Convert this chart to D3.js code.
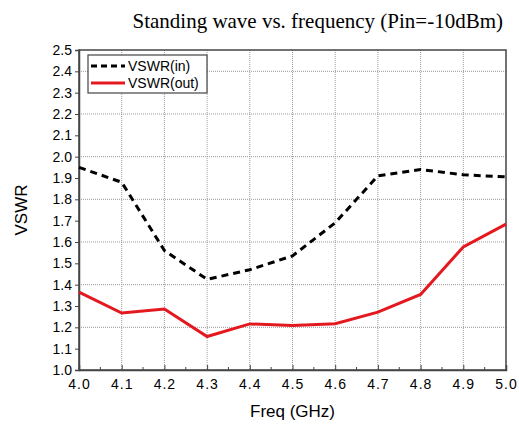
<!DOCTYPE html>
<html>
<head>
<meta charset="utf-8">
<script src="https://cdn.jsdelivr.net/npm/d3@7"></script>
<style>
  body { margin: 0; background: #fff; }
  .grid line { stroke: #9a9a9a; stroke-width: 1; stroke-dasharray: 1,1; }
  .axis path, .axis line { stroke: #444; }
  .axis text { font-family: "Liberation Sans", Arial, sans-serif; font-size: 14px; fill: #000; }
</style>
</head>
<body>
<div id="chart"></div>
<script>
    const freqs = [4.0, 4.1, 4.2, 4.3, 4.4, 4.5, 4.6, 4.7, 4.8, 4.9, 5.0];
    const vswrIn = [1.95, 1.88, 1.56, 1.425, 1.47, 1.535, 1.69, 1.91, 1.94, 1.915, 1.905];
    const vswrOut = [1.365, 1.267, 1.286, 1.157, 1.216, 1.209, 1.217, 1.271, 1.354, 1.577, 1.684];
    const yTicks = [1.0, 1.1, 1.2, 1.3, 1.4, 1.5, 1.6, 1.7, 1.8, 1.9, 2.0, 2.1, 2.2, 2.3, 2.4, 2.5];
    const yGrid = [1.2, 1.4, 1.6, 1.8, 2.0, 2.2, 2.4];
    const seriesNames = ["VSWR(in)", "VSWR(out)"];

    const svg = d3.select("#chart").append("svg")
      .attr("width", 519)
      .attr("height", 425);
    const margin = { top: 50, right: 13, bottom: 55, left: 79 };
    const width = +svg.attr("width") - margin.left - margin.right;
    const height = +svg.attr("height") - margin.top - margin.bottom;
    const g = svg.append("g").attr("transform", `translate(${margin.left},${margin.top})`);

    const x = d3.scaleLinear().domain([4.0, 5.0]).range([0, width]);
    const y = d3.scaleLinear().domain([1.0, 2.5]).range([height, 0]);

    // grid lines
    g.append("g").attr("class", "grid")
      .selectAll("line").data(freqs.slice(1, -1)).enter().append("line")
      .attr("x1", d => x(d)).attr("x2", d => x(d))
      .attr("y1", 0).attr("y2", height);
    g.append("g").attr("class", "grid")
      .selectAll("line").data(yGrid).enter().append("line")
      .attr("x1", 0).attr("x2", width)
      .attr("y1", d => y(d)).attr("y2", d => y(d));

    // frame
    g.append("rect")
      .attr("width", width).attr("height", height)
      .attr("fill", "none").attr("stroke", "#444").attr("stroke-width", 1.5);

    // x axis: minor ticks pointing inward
    const minor = d3.range(4.05, 5.0, 0.1);
    g.append("g").selectAll("line").data(minor).enter().append("line")
      .attr("x1", d => x(d)).attr("x2", d => x(d))
      .attr("y1", height).attr("y2", height - 3)
      .attr("stroke", "#444");
    g.append("g")
      .attr("class", "axis")
      .attr("transform", `translate(0,${height})`)
      .call(d3.axisBottom(x).tickValues(freqs).tickSize(-5).tickPadding(9).tickFormat(d3.format(".1f")))
      .call(a => a.select(".domain").attr("stroke-width", 1.5))
      .call(a => a.selectAll("text").attr("font-size", 15).attr("letter-spacing", 1));

    g.append("g")
      .attr("class", "axis")
      .call(d3.axisLeft(y).tickValues(yTicks).tickSize(4).tickPadding(3).tickFormat(d3.format(".1f")))
      .call(a => a.select(".domain").attr("stroke-width", 1.5));

    // lines
    const line = d3.line().x((d, i) => x(freqs[i])).y(d => y(d));
    g.append("path").datum(vswrOut)
      .attr("fill", "none").attr("stroke", "#e3191f").attr("stroke-width", 3)
      .attr("d", line);
    g.append("path").datum(vswrIn)
      .attr("fill", "none").attr("stroke", "#000").attr("stroke-width", 3)
      .attr("stroke-dasharray", "7,5")
      .attr("d", line);

    // legend
    const lg = g.append("g").attr("transform", "translate(9,5)");
    lg.append("rect").attr("width", 119).attr("height", 38)
      .attr("fill", "#fff").attr("stroke", "#444").attr("stroke-width", 1.2);
    const styles = [{ c: "#000", dash: "6,4" }, { c: "#e3191f", dash: null }];
    seriesNames.forEach((name, i) => {
      const yy = 11 + i * 17;
      lg.append("line").attr("x1", 3).attr("x2", 37).attr("y1", yy).attr("y2", yy)
        .attr("stroke", styles[i].c).attr("stroke-width", 3)
        .attr("stroke-dasharray", styles[i].dash);
      lg.append("text").attr("x", 40).attr("y", yy + 5)
        .attr("font-family", "Liberation Sans, Arial, sans-serif").attr("font-size", 14)
        .text(name);
    });

    // titles
    svg.append("text")
      .attr("x", 503).attr("y", 28).attr("text-anchor", "end")
      .attr("font-family", "Liberation Serif, Times New Roman, serif").attr("font-size", 21)
      .text("Standing wave vs. frequency (Pin=-10dBm)");
    svg.append("text")
      .attr("x", margin.left + width / 2).attr("y", 417).attr("text-anchor", "middle")
      .attr("font-family", "Liberation Sans, Arial, sans-serif").attr("font-size", 17)
      .text("Freq (GHz)");
    svg.append("text")
      .attr("transform", `translate(27,${margin.top + height / 2}) rotate(-90)`)
      .attr("text-anchor", "middle")
      .attr("font-family", "Liberation Sans, Arial, sans-serif").attr("font-size", 17)
      .text("VSWR");
</script>
</body>
</html>
